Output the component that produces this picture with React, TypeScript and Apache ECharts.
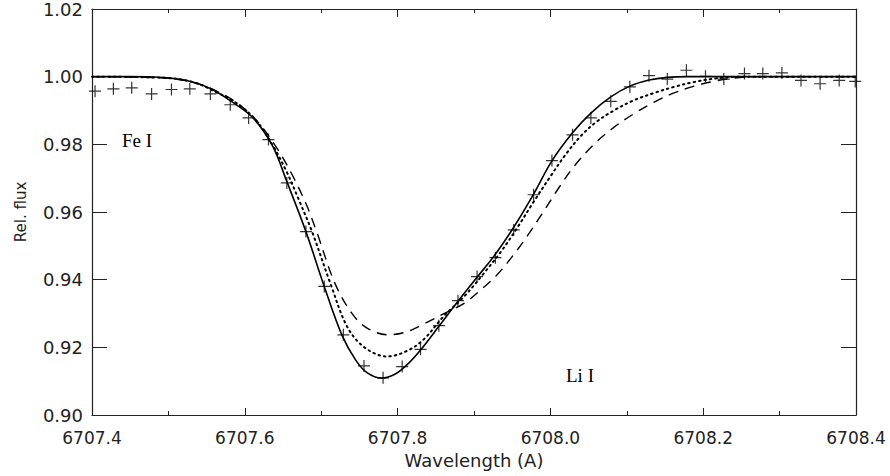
import React, { useEffect, useRef } from "react";
import * as echarts from "echarts";

// Observed spectrum (crosses)
const obsWave = [
  6707.404, 6707.428, 6707.452, 6707.478, 6707.504, 6707.528, 6707.555, 6707.581,
  6707.605, 6707.631, 6707.655, 6707.680, 6707.704, 6707.729, 6707.756, 6707.781,
  6707.806, 6707.830, 6707.854, 6707.879, 6707.904, 6707.928, 6707.952, 6707.978,
  6708.002, 6708.029, 6708.053, 6708.079, 6708.104, 6708.129, 6708.153, 6708.178,
  6708.203, 6708.227, 6708.254, 6708.278, 6708.303, 6708.328, 6708.353, 6708.378,
  6708.399,
];
const obsFlux = [
  0.9957, 0.9964, 0.9967, 0.9949, 0.9962, 0.9964, 0.9949, 0.9917,
  0.9878, 0.9814, 0.9686, 0.9542, 0.938, 0.9237, 0.9145, 0.911,
  0.9143, 0.9194, 0.9264, 0.9338, 0.9409, 0.9465, 0.9547, 0.9651,
  0.9752, 0.9828, 0.9878, 0.9927, 0.997, 1.0003, 0.9993, 1.0019,
  1.0001, 0.9993, 1.0009, 1.0009, 1.0011, 0.9989, 0.9979, 0.9989,
  0.9986,
];

// Synthetic model 1 (solid)
const solidWave = [
  6707.4, 6707.45, 6707.48, 6707.505, 6707.531, 6707.557, 6707.583, 6707.61,
  6707.636, 6707.655, 6707.68, 6707.704, 6707.727, 6707.745, 6707.76, 6707.779,
  6707.797, 6707.814, 6707.83, 6707.854, 6707.879, 6707.904, 6707.928, 6707.952,
  6707.978, 6708.002, 6708.029, 6708.053, 6708.079, 6708.104, 6708.129, 6708.153,
  6708.18, 6708.22, 6708.4,
];
const solidFlux = [
  1.0, 1.0, 0.9999, 0.9995, 0.9985, 0.9963, 0.9926, 0.988,
  0.9797, 0.969, 0.9542, 0.938, 0.9237, 0.9163, 0.9125, 0.9109,
  0.9121, 0.9152, 0.9192, 0.9262, 0.9336, 0.9407, 0.9475, 0.9555,
  0.9653, 0.9751, 0.9834, 0.9892, 0.994, 0.9972, 0.999, 0.9998,
  1.0, 1.0, 1.0,
];

// Synthetic model 2 (dotted)
const dottedWave = [
  6707.4, 6707.5, 6707.535, 6707.561, 6707.587, 6707.614, 6707.636, 6707.655,
  6707.67, 6707.688, 6707.712, 6707.734, 6707.756, 6707.786, 6707.812, 6707.834,
  6707.86, 6707.887, 6707.913, 6707.937, 6707.957, 6707.978, 6708.0, 6708.02,
  6708.04, 6708.06, 6708.083, 6708.109, 6708.136, 6708.162, 6708.188, 6708.214,
  6708.24, 6708.27, 6708.4,
];
const dottedFlux = [
  1.0, 0.9996, 0.9982, 0.9956, 0.9925, 0.9873, 0.9799, 0.9718,
  0.964, 0.9542, 0.9389, 0.9261, 0.9201, 0.9173, 0.9189, 0.9223,
  0.9291, 0.935, 0.9419, 0.9488, 0.9555, 0.963, 0.9705, 0.977,
  0.9825, 0.9866, 0.99, 0.993, 0.9952, 0.997, 0.9984, 0.9994,
  0.9999, 1.0, 1.0,
];

// Synthetic model 3 (dashed)
const dashedWave = [
  6707.4, 6707.5, 6707.54, 6707.572, 6707.596, 6707.62, 6707.642, 6707.662,
  6707.68, 6707.694, 6707.718, 6707.74, 6707.76, 6707.788, 6707.812, 6707.836,
  6707.862, 6707.887, 6707.909, 6707.93, 6707.95, 6707.97, 6707.99, 6708.01,
  6708.031, 6708.057, 6708.083, 6708.109, 6708.136, 6708.162, 6708.188, 6708.214,
  6708.24, 6708.266, 6708.4,
];
const dashedFlux = [
  1.0, 0.9995, 0.9978, 0.9947, 0.9912, 0.9858, 0.9789, 0.971,
  0.9625, 0.9542, 0.9389, 0.9301, 0.9257, 0.9237, 0.9246, 0.9271,
  0.9301, 0.933, 0.937, 0.9414, 0.9468, 0.953, 0.9598, 0.9668,
  0.9735, 0.98, 0.985, 0.989, 0.9925, 0.9952, 0.9972, 0.9986,
  0.9996, 1.0, 1.0,
];

const xMin = 6707.4;
const xMax = 6708.4;
const xStep = 0.2;
const yMin = 0.9;
const yMax = 1.02;
const yStep = 0.02;

const zip = (a: number[], b: number[]) => a.map((v, i) => [v, b[i]]);

const PLUS = "path://M4.5,0h1v4.5h4.5v1h-4.5v4.5h-1v-4.5h-4.5v-1h4.5z";

export default function App() {
  const ref = useRef<HTMLDivElement>(null);
  useEffect(() => {
    if (!ref.current) return;
    const chart = echarts.init(ref.current, null, { renderer: "svg" });
    const frame = { show: true, lineStyle: { color: "#222", width: 1.2 } };
    chart.setOption({
      animation: false,
      backgroundColor: "#fff",
      grid: { left: 92, right: 34, top: 8, bottom: 61, containLabel: false },
      xAxis: [
        {
          type: "value", min: xMin, max: xMax, interval: xStep, position: "bottom",
          axisLine: frame,
          axisTick: { show: true, inside: true, length: 7, lineStyle: { color: "#222" } },
          minorTick: { show: true, splitNumber: 2, length: 4, lineStyle: { color: "#222" } },
          splitLine: { show: false },
          axisLabel: {
            fontFamily: "DejaVu Sans", fontSize: 17, color: "#222", margin: 14,
            formatter: (v: number) => v.toFixed(1),
          },
          name: "Wavelength (A)", nameLocation: "middle", nameGap: 36,
          nameTextStyle: { fontFamily: "DejaVu Sans", fontSize: 18, color: "#222" },
        },
        {
          type: "value", min: xMin, max: xMax, interval: xStep, position: "top",
          axisLine: frame,
          axisTick: { show: true, inside: true, length: 8, lineStyle: { color: "#222" } },
          minorTick: { show: true, splitNumber: 2, length: 4, lineStyle: { color: "#222" } },
          splitLine: { show: false }, axisLabel: { show: false },
        },
      ],
      yAxis: [
        {
          type: "value", min: yMin, max: yMax, interval: yStep, position: "left",
          axisLine: frame,
          axisTick: { show: true, inside: true, length: 15, lineStyle: { color: "#222" } },
          splitLine: { show: false },
          axisLabel: {
            fontFamily: "DejaVu Sans", fontSize: 18, color: "#222", margin: 9,
            formatter: (v: number) => v.toFixed(2),
          },
          name: "Rel. flux", nameLocation: "middle", nameGap: 64,
          nameTextStyle: { fontFamily: "DejaVu Sans", fontSize: 15, color: "#222" },
        },
        {
          type: "value", min: yMin, max: yMax, interval: yStep, position: "right",
          axisLine: frame,
          axisTick: { show: true, inside: true, length: 15, lineStyle: { color: "#222" } },
          splitLine: { show: false }, axisLabel: { show: false },
        },
      ],
      series: [
        {
          type: "line", name: "model 1", data: zip(solidWave, solidFlux), smooth: 0.35,
          showSymbol: false, lineStyle: { color: "#000", width: 1.6 },
        },
        {
          type: "line", name: "model 2", data: zip(dottedWave, dottedFlux), smooth: 0.35,
          showSymbol: false, lineStyle: { color: "#000", width: 2, type: [1.5, 4], cap: "round" },
        },
        {
          type: "line", name: "model 3", data: zip(dashedWave, dashedFlux), smooth: 0.35,
          showSymbol: false, lineStyle: { color: "#000", width: 1.4, type: [10, 7] },
        },
        {
          type: "scatter", name: "observed", data: zip(obsWave, obsFlux),
          symbol: PLUS, symbolSize: 12, itemStyle: { color: "#000" },
        },
      ],
      graphic: [
        { type: "text", left: 122, top: 131, style: { text: "Fe I", font: "19px 'Liberation Serif'", fill: "#000" } },
        { type: "text", left: 566, top: 366, style: { text: "Li I", font: "19px 'Liberation Serif'", fill: "#000" } },
      ],
    });
    return () => chart.dispose();
  }, []);
  return (
    <div
      ref={ref}
      style={{ position: "absolute", left: 0, top: 0, width: 890, height: 476 }}
    />
  );
}
